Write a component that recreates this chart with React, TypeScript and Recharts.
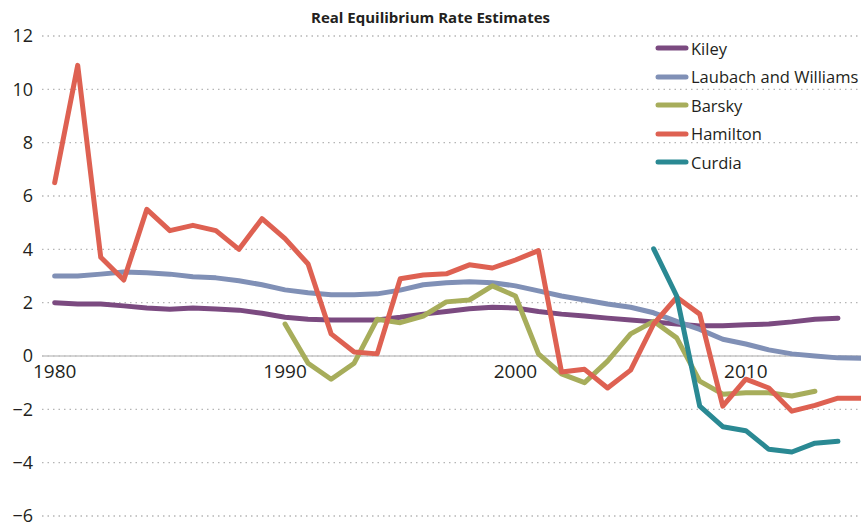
import React from "react";
import { LineChart, Line, XAxis, YAxis, CartesianGrid, ReferenceLine } from "recharts";

const years = [
    1980, 1981, 1982, 1983, 1984, 1985, 1986, 1987, 1988, 1989,
    1990, 1991, 1992, 1993, 1994, 1995, 1996, 1997, 1998, 1999,
    2000, 2001, 2002, 2003, 2004, 2005, 2006, 2007, 2008, 2009,
    2010, 2011, 2012, 2013, 2014, 2015,
];

const kiley = [
    2.0, 1.95, 1.95, 1.88, 1.8, 1.75, 1.8, 1.76, 1.72, 1.6,
    1.45, 1.38, 1.35, 1.35, 1.35, 1.45, 1.57, 1.67, 1.77, 1.83,
    1.8, 1.67, 1.57, 1.5, 1.42, 1.35, 1.28, 1.2, 1.13, 1.13,
    1.17, 1.2, 1.28, 1.38, 1.42, null,
];

const laubach = [
    3.0, 3.0, 3.07, 3.15, 3.12, 3.07, 2.97, 2.93, 2.82, 2.67,
    2.48, 2.37, 2.3, 2.3, 2.33, 2.47, 2.67, 2.75, 2.78, 2.75,
    2.63, 2.44, 2.25, 2.1, 1.95, 1.83, 1.62, 1.3, 1.0, 0.63,
    0.45, 0.23, 0.08, 0.0, -0.07, -0.08,
];

const barsky = [
    null, null, null, null, null, null, null, null, null, null,
    1.2, -0.27, -0.87, -0.27, 1.38, 1.25, 1.5, 2.03, 2.1, 2.63,
    2.25, 0.08, -0.67, -1.0, -0.19, 0.83, 1.3, 0.68, -0.94, -1.43,
    -1.38, -1.38, -1.5, -1.32, null, null,
];

const hamilton = [
    6.5, 10.9, 3.7, 2.85, 5.5, 4.7, 4.9, 4.7, 4.0, 5.15,
    4.4, 3.45, 0.83, 0.15, 0.08, 2.9, 3.04, 3.08, 3.42, 3.3,
    3.6, 3.95, -0.6, -0.5, -1.2, -0.53, 1.2, 2.2, 1.57, -1.88,
    -0.87, -1.2, -2.07, -1.85, -1.58, -1.58,
];

const curdia = [
    null, null, null, null, null, null, null, null, null, null,
    null, null, null, null, null, null, null, null, null, null,
    null, null, null, null, null, null, 4.02, 2.25, -1.88, -2.65,
    -2.8, -3.5, -3.6, -3.27, -3.2, null,
];

const yTicks = [-6, -4, -2, 0, 2, 4, 6, 8, 10, 12];
const xTicks = [1980, 1990, 2000, 2010];

const SERIES = [
    { key: "kiley", name: "Kiley", color: "#7b4a80" },
    { key: "laubach", name: "Laubach and Williams", color: "#8090b6" },
    { key: "barsky", name: "Barsky", color: "#a7ad5b" },
    { key: "hamilton", name: "Hamilton", color: "#de6152" },
    { key: "curdia", name: "Curdia", color: "#2a8993" },
];

const data = years.map((year, i) => ({
    year,
    kiley: kiley[i],
    laubach: laubach[i],
    barsky: barsky[i],
    hamilton: hamilton[i],
    curdia: curdia[i],
}));

const WIDTH = 861;
const HEIGHT = 527;
const X_AXIS_H = 11;
const MARGIN = { top: 36, right: 0, bottom: 0, left: 0 };
const Y_MIN = -6;
const Y_MAX = 12;
const PLOT_H = HEIGHT - MARGIN.top - MARGIN.bottom - X_AXIS_H;
const ZERO_OFFSET = (PLOT_H * (0 - Y_MIN)) / (Y_MAX - Y_MIN);

const FONT = "'Open Sans', sans-serif";
const TEXT_COLOR = "#231f20";

// year labels sit under the zero line, not under the plot
const YearTick = (props: any) => {
    const { x, y, payload } = props;
    return (
        <text x={x} y={y - ZERO_OFFSET + 9} dy="0.71em" textAnchor="middle"
            fontFamily={FONT} fontSize={19} fill={TEXT_COLOR}>
            {payload.value}
        </text>
    );
};

const LegendBox = () => (
    <div style={{ position: "absolute", top: 34, left: 655, fontFamily: FONT, fontSize: 16.5, color: TEXT_COLOR, zIndex: 2 }}>
        {SERIES.map((s) => (
            <div key={s.key} style={{ display: "flex", alignItems: "center", height: 28.5 }}>
                <svg width={36} height={10}>
                    <line x1={3} y1={5} x2={31} y2={5} stroke={s.color} strokeWidth={5} strokeLinecap="round" />
                </svg>
                <span style={{ whiteSpace: "nowrap" }}>{s.name}</span>
            </div>
        ))}
    </div>
);

export default function App() {
    return (
        <div style={{ position: "absolute", top: 0, left: 0, width: WIDTH, height: HEIGHT, overflow: "hidden", background: "#fff" }}>
            <div style={{
                position: "absolute", top: 7, left: 0, width: WIDTH, textAlign: "center",
                fontFamily: FONT, fontWeight: 700, fontSize: 15, color: TEXT_COLOR, zIndex: 2,
            }}>
                Real Equilibrium Rate Estimates
            </div>
            <LegendBox />
            <LineChart width={WIDTH} height={HEIGHT} data={data} margin={MARGIN}>
                <CartesianGrid vertical={false} stroke="#b5b5b5" strokeDasharray="1.5 4" strokeWidth={1.3} />
                <XAxis dataKey="year" type="number" domain={[1979.45, 2015]} ticks={xTicks}
                    allowDataOverflow axisLine={false} tickLine={false} tickSize={0} tickMargin={0}
                    height={X_AXIS_H} tick={<YearTick />} interval={0} />
                <YAxis domain={[Y_MIN, Y_MAX]} ticks={yTicks} width={42} axisLine={false} tickLine={false}
                    tickSize={0} tickMargin={9} interval={0}
                    tickFormatter={(v: number) => (v < 0 ? `\u2212${Math.abs(v)}` : `${v}`)}
                    tick={{ fontFamily: FONT, fontSize: 18, fill: TEXT_COLOR }} />
                <ReferenceLine y={0} stroke="#c6c6c6" strokeWidth={1.5} />
                {SERIES.map((s) => (
                    <Line key={s.key} dataKey={s.key} name={s.name} type="linear" stroke={s.color}
                        strokeWidth={5} dot={false} activeDot={false} strokeLinecap="round"
                        strokeLinejoin="round" isAnimationActive={false} />
                ))}
            </LineChart>
        </div>
    );
}
